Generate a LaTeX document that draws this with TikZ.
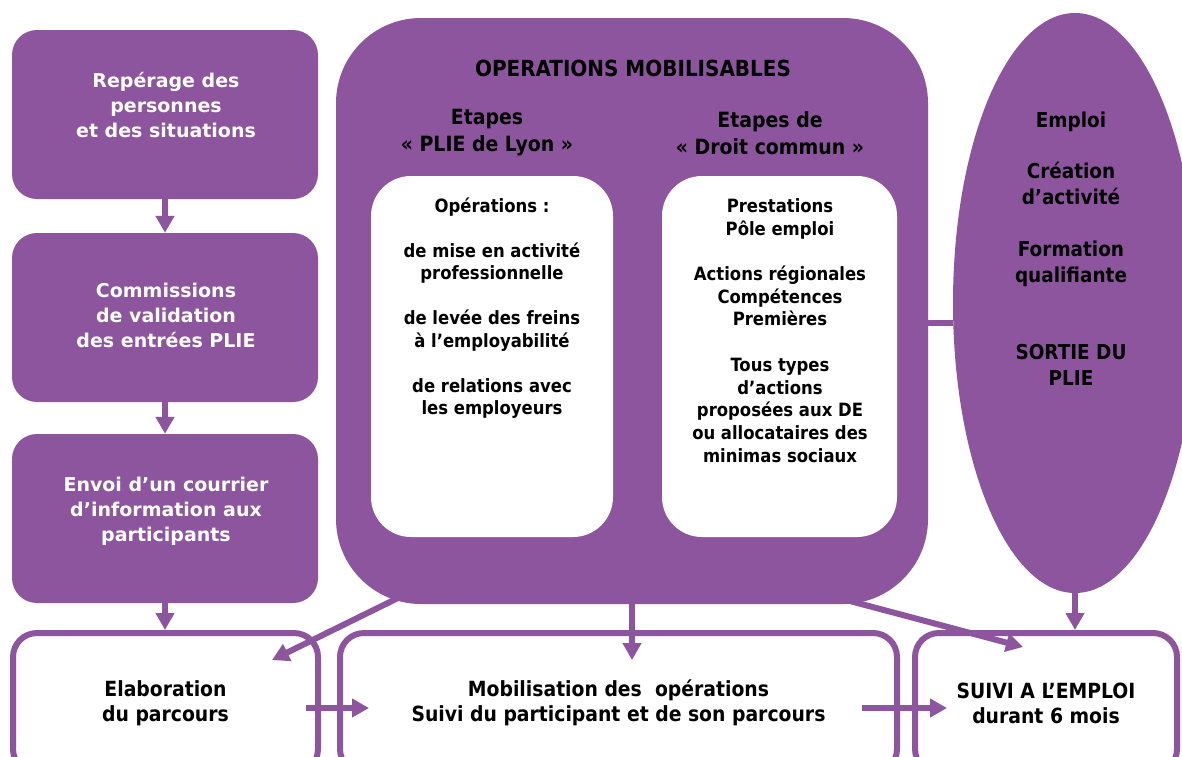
\documentclass[tikz,border=0pt]{standalone}
\usepackage{fontspec}
\usepackage{tikz}
\usetikzlibrary{arrows.meta,shapes.geometric}
\newfontfamily\wfont{DejaVu Sans}
\newfontfamily\bfont{DejaVu Sans Condensed}
\definecolor{plie}{RGB}{142,85,159}
\tikzset{
pbox/.style={fill=plie,rounded corners=25pt,minimum width=306pt,minimum height=169pt},
wbox/.style={fill=white,rounded corners=40pt,minimum height=361pt},
obox/.style={draw=plie,line width=6pt,fill=white,rounded corners=24pt,minimum height=140pt,align=center,font=\bfont\bfseries\fontsize{20.9}{25}\selectfont},
wtxt/.style={text=white,align=center,font=\wfont\bfseries\fontsize{19}{25}\selectfont},
htxt/.style={align=center,font=\bfont\bfseries\fontsize{21}{27}\selectfont},
btxt/.style={align=center,font=\bfont\bfseries\fontsize{18.3}{22.5}\selectfont},
flow/.style={draw=plie,line width=6pt,-{Triangle[width=18pt,length=17pt]}},
link/.style={draw=plie,line width=6pt}
}
\begin{document}
\begin{tikzpicture}[x=1pt,y=-1pt]
\clip (0,0) rectangle (1182,756);
\fill[white] (0,0) rectangle (1182,756);

\node[pbox] (rep) at (165,114.5) {};
\node[pbox] (com) at (165,317.5) {};
\node[pbox] (env) at (165,518.5) {};
\node[wtxt] (reptxt) at (166,105) {Repérage des\\personnes\\et des situations};
\node[wtxt] (comtxt) at (166,315.5) {Commissions\\de validation\\des entrées PLIE};
\node[wtxt] (envtxt) at (166,511) {Envoi d’un courrier\\d’information aux\\participants};

\node[fill=plie,rounded corners=85pt,minimum width=592pt,minimum height=586pt] (ops) at (632,311) {};
\node[htxt,font=\bfont\bfseries\fontsize{22.2}{27}\selectfont] (opstxt) at (633,68) {OPERATIONS MOBILISABLES};
\node[htxt] (plieh) at (487,133) {Etapes\\«~PLIE de Lyon~»};
\node[htxt] (droith) at (770,133) {Etapes de\\«~Droit commun~»};
\node[wbox,minimum width=242pt] (plie) at (492,356.5) {};
\node[wbox,minimum width=235pt] (droit) at (779.5,356.5) {};
\node[btxt] (plietxt) at (492,308) {Opérations :\\[22.5pt]de mise en activité\\professionnelle\\[22.5pt]de levée des freins\\à l’employabilité\\[22.5pt]de relations avec\\les employeurs};
\node[btxt,font=\bfont\bfseries\fontsize{18.3}{22.7}\selectfont] (droittxt) at (780,330.5) {Prestations\\Pôle emploi\\[22.7pt]Actions régionales\\Compétences\\Premières\\[22.7pt]Tous types\\d’actions\\proposées aux DE\\ou allocataires des\\minimas sociaux};

\node[ellipse,fill=plie,minimum width=244pt,minimum height=580pt] (sortie) at (1075,303) {};
\node[htxt,font=\bfont\bfseries\fontsize{20.5}{25.8}\selectfont] (sortietxt) at (1071,248.5) {Emploi\\[25.8pt]Création\\d’activité\\[25.8pt]Formation\\qualifiante\\[51.6pt]SORTIE DU\\PLIE};

\node[obox,minimum width=305pt] (elab) at (165.5,703) {Elaboration\\du parcours};
\node[obox,minimum width=557pt] (mob) at (618.5,703) {Mobilisation des~ opérations\\Suivi du participant et de son parcours};
\node[obox,minimum width=262pt] (suivi) at (1046,703) {SUIVI A L’EMPLOI\\durant 6 mois};

\coordinate (opsl) at (400,597);
\coordinate (elabin) at (272,660);
\coordinate (opsr) at (850,601);
\coordinate (suivin) at (1023,647);
\coordinate (mobin) at (632,660);

\draw[link] ([yshift=-12pt]ops.east) -- ([yshift=-20pt]sortie.west);
\draw[flow] (rep) -- (com);
\draw[flow] (com) -- (env);
\draw[flow] (env) -- (env |- elab.north);
\draw[flow] (ops) -- (mobin);
\draw[flow] (opsl) -- (elabin);
\draw[flow] (opsr) -- (suivin);
\draw[flow] (sortie) -- (sortie |- suivi.north);
\draw[flow] ([xshift=-15pt,yshift=-5pt]elab.east) -- ([xshift=32pt,yshift=-5pt]mob.west);
\draw[flow] ([xshift=-38pt,yshift=-5pt]mob.east) -- ([xshift=35pt,yshift=-5pt]suivi.west);
\end{tikzpicture}
\end{document}
